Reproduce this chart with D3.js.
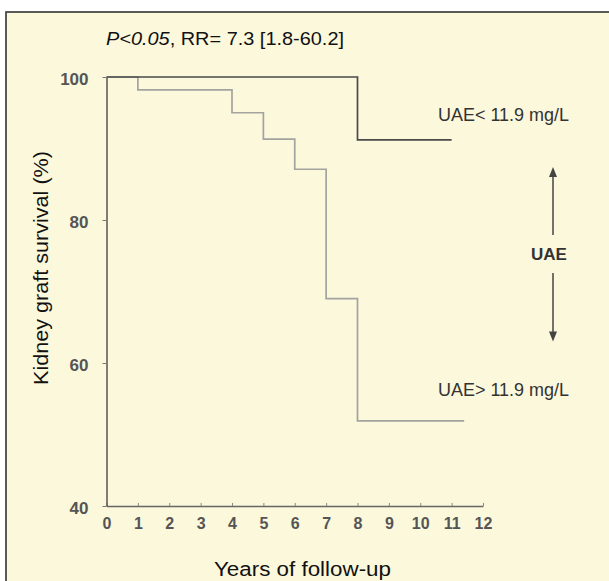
<!DOCTYPE html>
<html>
<head>
<meta charset="utf-8">
<script src="https://cdn.jsdelivr.net/npm/d3@7"></script>
<style>
body { margin: 0; background: #fff; }
text { font-family: "Liberation Sans", Arial, sans-serif; }
</style>
</head>
<body>
<div id="chart"></div>
<script>
// survival curves (year, % surviving), step after each point
var lowUAE = [
	{X: 0, Y: 100},
	{X: 8, Y: 91.2},
	{X: 11, Y: 91.2}
];
var highUAE = [
	{X: 0, Y: 100},
	{X: 1, Y: 98.2},
	{X: 4, Y: 95},
	{X: 5, Y: 91.3},
	{X: 6, Y: 87.1},
	{X: 7, Y: 69},
	{X: 8, Y: 51.9},
	{X: 11.4, Y: 51.9}
];
var xTicks = [0, 1, 2, 3, 4, 5, 6, 7, 8, 9, 10, 11, 12];
var yTicks = [40, 60, 80, 100];
var labels = ["UAE< 11.9 mg/L", "UAE> 11.9 mg/L", "UAE"];

var W = 609, H = 581;

var svg = d3.select("#chart")
.append("svg")
.attr("width", W)
.attr("height", H);

// cream panel with dark border (top/left visible)
svg.append("rect")
.attr("x", 6)
.attr("y", 12)
.attr("width", 640)
.attr("height", 620)
.style("fill", "#fbf8dc")
.style("stroke", "#333")
.style("stroke-width", 1.6);

var xScale = d3.scaleLinear()
.domain([0, 12])
.range([106.5, 483]);

var yScale = d3.scaleLinear()
.domain([40, 100])
.range([506, 77]);

// x axis
var xAxis = svg.append("g")
.attr("transform", "translate(0," + yScale(40) + ")")
.call(d3.axisBottom(xScale).tickValues(xTicks).tickSizeInner(-3).tickSizeOuter(0).tickPadding(12));
xAxis.select(".domain").style("stroke", "#666").style("stroke-width", 1.4);
xAxis.selectAll(".tick line").style("stroke", "#888");
xAxis.selectAll(".tick text")
.style("font-size", "16px")
.style("font-weight", "bold")
.style("fill", "#555");

// y axis
var yAxis = svg.append("g")
.attr("transform", "translate(" + xScale(0) + ",0)")
.call(d3.axisLeft(yScale).tickValues(yTicks).tickSizeInner(4).tickSizeOuter(0).tickPadding(14));
yAxis.select(".domain").style("stroke", "#555").style("stroke-width", 1.5);
yAxis.selectAll(".tick line").style("stroke", "#777");
yAxis.selectAll(".tick text")
.attr("dy", "0.45em")
.style("font-size", "17px")
.style("font-weight", "bold")
.style("fill", "#555");

var line = d3.line()
.x(function (d) { return xScale(d.X); })
.y(function (d) { return yScale(d.Y); })
.curve(d3.curveStepAfter);

svg.append("path")
.datum(highUAE)
.attr("d", line)
.style("fill", "none")
.style("stroke", "#a3a3a0")
.style("stroke-width", 1.7);

svg.append("path")
.datum(lowUAE)
.attr("d", line)
.style("fill", "none")
.style("stroke", "#4a4a4a")
.style("stroke-width", 1.7);

// title
var title = svg.append("text")
.attr("x", 106)
.attr("y", 45)
.attr("textLength", 238)
.attr("lengthAdjust", "spacingAndGlyphs")
.style("font-size", "19px")
.style("fill", "#111");
title.append("tspan").style("font-style", "italic").text("P<0.05");
title.append("tspan").text(", RR= 7.3 [1.8-60.2]");

// axis titles
svg.append("text")
.attr("x", 214)
.attr("y", 576)
.attr("textLength", 177)
.attr("lengthAdjust", "spacingAndGlyphs")
.style("font-size", "20px")
.style("fill", "#111")
.text("Years of follow-up");

svg.append("text")
.attr("transform", "translate(48,385) rotate(-90)")
.attr("textLength", 234)
.attr("lengthAdjust", "spacingAndGlyphs")
.style("font-size", "20px")
.style("fill", "#111")
.text("Kidney graft survival (%)");

// curve labels
svg.append("text")
.attr("x", 438)
.attr("y", yScale(94.7))
.attr("dy", "0.35em")
.attr("textLength", 131)
.attr("lengthAdjust", "spacingAndGlyphs")
.style("font-size", "18px")
.style("fill", "#333")
.text(labels[0]);

svg.append("text")
.attr("x", 438)
.attr("y", yScale(56.2))
.attr("dy", "0.35em")
.attr("textLength", 131)
.attr("lengthAdjust", "spacingAndGlyphs")
.style("font-size", "18px")
.style("fill", "#333")
.text(labels[1]);

// UAE with arrows
var ax = 553;
svg.append("text")
.attr("x", ax - 4)
.attr("y", yScale(75.2))
.attr("dy", "0.35em")
.attr("text-anchor", "middle")
.style("font-size", "17px")
.style("font-weight", "bold")
.style("fill", "#333")
.text(labels[2]);

svg.append("line")
.attr("x1", ax).attr("x2", ax)
.attr("y1", yScale(77.9)).attr("y2", yScale(86.4))
.style("stroke", "#444").style("stroke-width", 1.5);
svg.append("path")
.attr("d", "M" + ax + "," + yScale(87.4) + "l-4,10l8,0z")
.style("fill", "#444");

svg.append("line")
.attr("x1", ax).attr("x2", ax)
.attr("y1", yScale(72.6)).attr("y2", yScale(64.1))
.style("stroke", "#444").style("stroke-width", 1.5);
svg.append("path")
.attr("d", "M" + ax + "," + yScale(63) + "l-4,-10l8,0z")
.style("fill", "#444");
</script>
</body>
</html>
